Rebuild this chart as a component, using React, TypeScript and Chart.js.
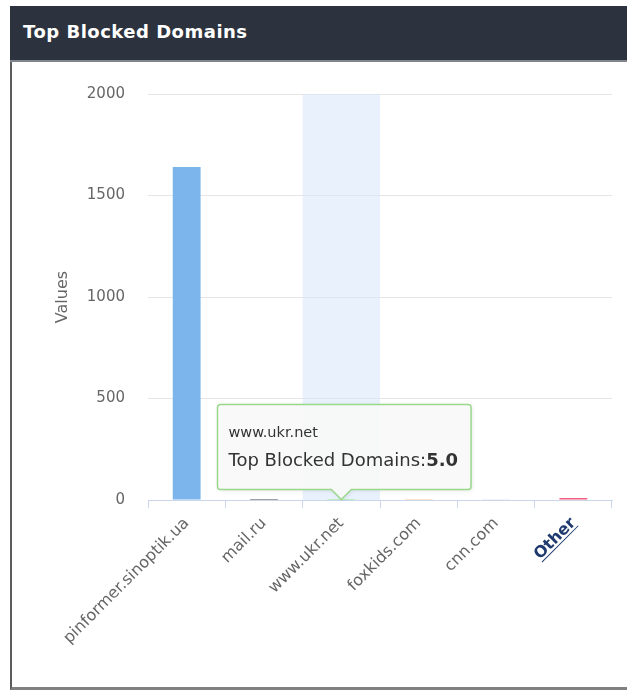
import React, { useEffect, useRef } from 'react';
import { Chart, registerables } from 'chart.js';

Chart.register(...registerables);

const categories = ['pinformer.sinoptik.ua', 'mail.ru', 'www.ukr.net', 'foxkids.com', 'cnn.com', 'Other'];
const values = [1640, 5, 5, 4, 3, 10];
const barColors = ['#7cb5ec', '#434348', '#90ed7d', '#f7a35c', '#8085e9', '#f15c80'];
const yTickValues = [0, 500, 1000, 1500, 2000];
const panelTitle = 'Top Blocked Domains';
const seriesName = 'Top Blocked Domains';
const yAxisTitle = 'Values';
const hoveredIndex = 2;
const linkIndex = 5;

const FONT = '"DejaVu Sans", Verdana, sans-serif';
const Y_TICK_SIZE = 15;
const X_TICK_SIZE = 16;

export default function App() {
  const ref = useRef<HTMLCanvasElement>(null);

  useEffect(() => {
    const canvas = ref.current;
    if (!canvas) return;

    const bandPlugin = {
      id: 'hoverBand',
      beforeDatasetsDraw(chart: any) {
        const xs = chart.scales.x;
        const ys = chart.scales.y;
        const c = xs.getPixelForValue(hoveredIndex);
        const w = xs.width / categories.length;
        const top = ys.getPixelForValue(yTickValues[yTickValues.length - 1]);
        const bottom = ys.getPixelForValue(0);
        const ctx = chart.ctx;
        ctx.save();
        ctx.fillStyle = 'rgba(214,230,250,0.55)';
        ctx.fillRect(c - w / 2, top, w, bottom - top);
        ctx.restore();
      },
    };

    const tooltipPlugin = {
      id: 'staticTooltip',
      afterDraw(chart: any) {
        const ctx = chart.ctx;
        const xs = chart.scales.x;
        const ys = chart.scales.y;

        // underline for drilldown link label
        {
          const px = xs.getPixelForValue(linkIndex);
          ctx.save();
          ctx.font = `bold ${X_TICK_SIZE}px ${FONT}`;
          const w = ctx.measureText(categories[linkIndex]).width;
          const lh = X_TICK_SIZE * 1.2;
          const y0 = xs.top + 8 + 6;
          ctx.translate(px - (lh / 2) * Math.SQRT1_2, y0);
          ctx.rotate(-Math.PI / 4);
          ctx.strokeStyle = '#1f3a6e';
          ctx.lineWidth = 1;
          ctx.beginPath();
          ctx.moveTo(-w, lh / 2 + 7);
          ctx.lineTo(0, lh / 2 + 7);
          ctx.stroke();
          ctx.restore();
        }

        const cx = xs.getPixelForValue(hoveredIndex);
        const tipY = ys.getPixelForValue(values[hoveredIndex]);
        const titleFont = `14.5px ${FONT}`;
        const bodyFont = `18px ${FONT}`;
        const boldFont = `bold 18px ${FONT}`;
        const label = seriesName + ':';
        const valText = values[hoveredIndex].toFixed(1);
        ctx.save();
        ctx.font = bodyFont;
        const lw = ctx.measureText(label).width;
        ctx.font = boldFont;
        const vw = ctx.measureText(valText).width;
        const padX = 11;
        const boxW = lw + vw + padX * 2 + 2;
        const boxH = 85;
        const caret = 10;
        const bx = Math.round(cx - boxW / 2 + 2) + 0.5;
        const by = Math.round(tipY - caret - boxH) + 0.5;
        const r = 3;
        ctx.beginPath();
        ctx.moveTo(bx + r, by);
        ctx.lineTo(bx + boxW - r, by);
        ctx.arcTo(bx + boxW, by, bx + boxW, by + r, r);
        ctx.lineTo(bx + boxW, by + boxH - r);
        ctx.arcTo(bx + boxW, by + boxH, bx + boxW - r, by + boxH, r);
        ctx.lineTo(cx + caret, by + boxH);
        ctx.lineTo(cx, by + boxH + caret);
        ctx.lineTo(cx - caret, by + boxH);
        ctx.lineTo(bx + r, by + boxH);
        ctx.arcTo(bx, by + boxH, bx, by + boxH - r, r);
        ctx.lineTo(bx, by + r);
        ctx.arcTo(bx, by, bx + r, by, r);
        ctx.closePath();
        ctx.shadowColor = 'rgba(0,0,0,0.12)';
        ctx.shadowBlur = 4;
        ctx.shadowOffsetX = 1;
        ctx.shadowOffsetY = 1;
        ctx.fillStyle = 'rgba(250,250,250,0.95)';
        ctx.fill();
        ctx.shadowColor = 'transparent';
        ctx.strokeStyle = '#9ad88c';
        ctx.lineWidth = 1.5;
        ctx.stroke();

        ctx.textBaseline = 'middle';
        ctx.textAlign = 'left';
        ctx.fillStyle = '#333333';
        ctx.font = titleFont;
        ctx.fillText(categories[hoveredIndex], bx + padX, by + 29);
        ctx.font = bodyFont;
        ctx.fillText(label, bx + padX, by + 57);
        ctx.font = boldFont;
        ctx.fillText(valText, bx + padX + lw, by + 57);
        ctx.restore();
      },
    };

    const chart = new Chart(canvas, {
      type: 'bar',
      data: {
        labels: categories,
        datasets: [
          {
            label: seriesName,
            data: values,
            backgroundColor: barColors,
            borderWidth: 0,
            categoryPercentage: 1,
            barPercentage: 0.36,
          },
        ],
      },
      options: {
        responsive: false,
        animation: false,
        events: [],
        layout: { padding: { left: 41, right: 15, top: 27, bottom: 0 } },
        plugins: {
          legend: { display: false },
          tooltip: { enabled: false },
          title: { display: false },
        },
        scales: {
          x: {
            grid: {
              display: true,
              drawOnChartArea: false,
              drawTicks: true,
              tickLength: 8,
              color: '#ccd6eb',
              offset: true,
            },
            border: { display: true, color: '#ccd6eb', dash: [2, 2] },
            ticks: {
              autoSkip: false,
              minRotation: 45,
              maxRotation: 45,
              padding: 6,
              color: (c: any) => (c.index === linkIndex ? '#1f3a6e' : '#666666'),
              font: (c: any) => ({
                family: FONT,
                size: X_TICK_SIZE,
                weight: c.index === linkIndex ? 'bold' : 'normal',
              }),
            },
            afterFit: (s: any) => {
              s.height = 186;
            },
          },
          y: {
            min: 0,
            max: 2000,
            afterBuildTicks: (s: any) => {
              s.ticks = yTickValues.map((v) => ({ value: v }));
            },
            grid: {
              color: (c: any) => (c.tick && c.tick.value === 0 ? 'rgba(0,0,0,0)' : '#e6e6e6'),
              drawTicks: false,
            },
            border: { display: false },
            ticks: {
              padding: 23,
              color: '#666666',
              font: { family: FONT, size: Y_TICK_SIZE },
              callback: (v: any) => String(v),
            },
            title: {
              display: true,
              text: yAxisTitle,
              color: '#666666',
              font: { family: FONT, size: 16 },
              padding: 0,
            },
            afterFit: (s: any) => {
              s.width = 136 - 41;
            },
          },
        },
      },
      plugins: [bandPlugin, tooltipPlugin],
    } as any);

    return () => chart.destroy();
  }, []);

  return (
    <div
      style={{
        position: 'absolute',
        left: 0,
        top: 0,
        width: 627,
        height: 690,
        overflow: 'hidden',
        background: '#ffffff',
      }}
    >
      <div
        style={{
          position: 'absolute',
          left: 10,
          top: 6,
          width: 617,
          height: 54,
          background: '#2c333e',
          borderBottom: '2px solid #80858c',
        }}
      >
        <div
          style={{
            position: 'absolute',
            left: 13,
            top: 0,
            height: 54,
            fontFamily: FONT,
            fontWeight: 'bold',
            fontSize: 18,
            letterSpacing: '0.5px',
            lineHeight: '52px',
            color: '#ffffff',
            whiteSpace: 'nowrap',
          }}
        >
          {panelTitle}
        </div>
      </div>
      <div
        style={{
          position: 'absolute',
          left: 10,
          top: 62,
          width: 615,
          height: 625,
          borderLeft: '2px solid #5c5c5c',
          borderBottom: '3px solid #808080',
        }}
      >
        <canvas ref={ref} width={615} height={624} style={{ display: 'block', width: 615, height: 624 }} />
      </div>
    </div>
  );
}
